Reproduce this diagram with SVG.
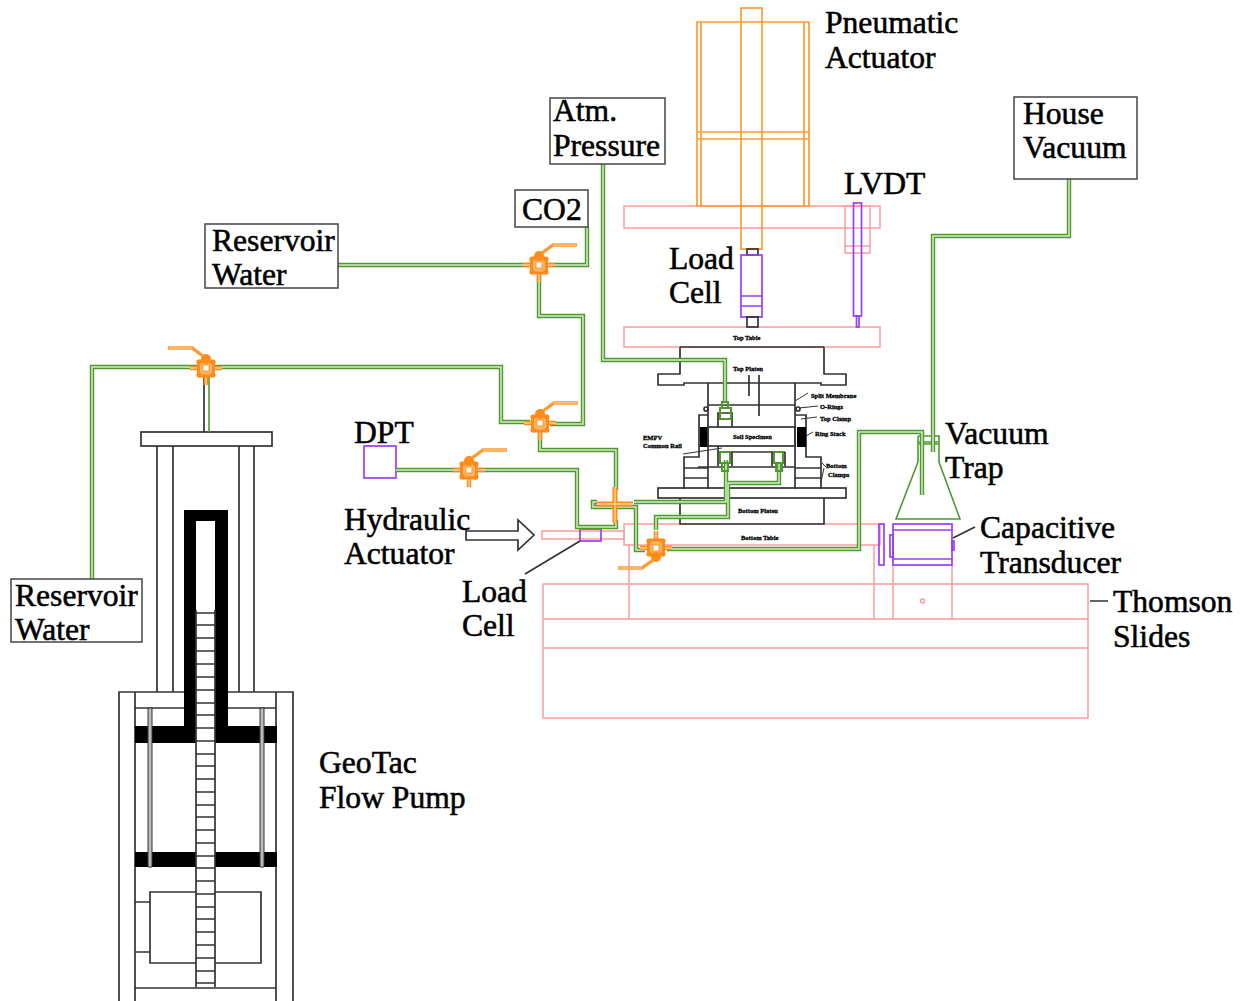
<svg xmlns="http://www.w3.org/2000/svg" xmlns:xlink="http://www.w3.org/1999/xlink" width="1243" height="1001" viewBox="0 0 1243 1001">
<style>
text{font-family:"Liberation Serif","Times New Roman",serif;fill:#000}
.l{font-size:31.6px;stroke:#000;stroke-width:.55px}
.t{font-size:6.5px;font-weight:bold;stroke:#000;stroke-width:.3px}
.k{fill:none;stroke:#333;stroke-width:1.7}
.kb{fill:#fff;stroke:#333;stroke-width:1.7}
.s{fill:#000;stroke:none}
.o{fill:none;stroke:#ff9a33;stroke-width:1.7}
.p{fill:none;stroke:#ff9c9c;stroke-width:1.5}
.v{fill:none;stroke:#9a3cff;stroke-width:1.7}
.g{fill:none;stroke:#4f9a2e;stroke-width:1.6}
.po{fill:none;stroke:#4f9a2e;stroke-width:4.4;stroke-linejoin:miter}
.pi{fill:none;stroke:#d4ecc8;stroke-width:1.5;stroke-linejoin:miter}
.vo{fill:none;stroke:#ff8c1a;stroke-width:4.5;stroke-linecap:butt}
.vi{fill:none;stroke:#ffd09a;stroke-width:1.4}
.box{fill:#fff;stroke:#444;stroke-width:1.5}
</style>
<defs>
<g id="valve">
<path class="vo" d="M-16,1H16M0,-6V18"/>
<path class="vi" d="M-16,1H16M0,6V18"/>
<rect x="-7.500" y="-6" width="15" height="15" rx="2" fill="#ffb366" stroke="#ff8c1a" stroke-width="3"/>
<circle cx="-7" cy="-5" r="2.600" fill="#ff8c1a"/><circle cx="7" cy="-5" r="2.600" fill="#ff8c1a"/>
<circle cx="-7" cy="8" r="2.600" fill="#ff8c1a"/><circle cx="7" cy="8" r="2.600" fill="#ff8c1a"/>
<circle cx="0" cy="-8" r="5" fill="#ff8c1a"/>
<path d="M3,-11L14,-19H38" fill="none" stroke="#ff9a33" stroke-width="3.400"/>
<path d="M14,-19H37" fill="none" stroke="#ffd09a" stroke-width="1.100"/>
<rect x="-3" y="-2" width="6" height="6" fill="#fff" stroke="#ff9a33" stroke-width="1"/>
</g>
</defs>

<g id="thomson-slides">
<rect class="p" x="543" y="584" width="545" height="134"/>
<path class="p" d="M543,619H1088M543,648H1088M629,545V619M874,545V619M893,565V619M952,565V619"/>
<circle class="p" cx="922.500" cy="601" r="2"/>
</g>
<g id="tables">
<rect class="p" x="624" y="206" width="256" height="22"/>
<rect class="p" x="624" y="327" width="256" height="20"/>
<rect class="p" x="624" y="524" width="256" height="21"/>
<rect class="p" x="542" y="531" width="82" height="8"/>
<rect class="p" x="845" y="206" width="25" height="47"/>
<path class="p" d="M845,246H870"/>
</g>
<g id="pneumatic-actuator">
<path class="o" d="M697,206V22H809V206M701,206V22M804,206V22M697,132H809M697,139H809M697,206H809"/>
<rect class="o" x="741" y="8" width="21" height="241"/>
</g>
<g id="load-cell-top">
<rect class="k" x="747" y="249" width="11" height="6"/>
<rect class="v" x="741" y="255" width="21" height="62"/>
<path class="v" d="M741,296H762M741,306H762"/>
<rect class="k" x="747" y="317" width="11" height="10"/>
</g>
<g id="lvdt">
<rect class="v" x="853.500" y="203" width="8" height="113"/>
<rect class="v" x="856.500" y="316" width="2.500" height="11"/>
</g>
<g id="triaxial-cell">
<path class="k" d="M680,347H824M680,347V374H658V385H684V383H821V385H846V374H824V347"/>
<path class="k" d="M708,383V489M795,383V489M708,405H795M749,375V396M759,375V416"/>
<rect class="k" x="708" y="427" width="87" height="19"/>
<path class="k" d="M718,427V413H732V427M718,446V466M732,452V466M772,452V466M785,452V466M718,452H785M698,467H795"/>
<path class="k" d="M708,415H699V457H684V489M795,415H806V457H821V489M684,468H708M684,478H708M795,468H821M795,478H821"/>
<rect class="s" x="700" y="427" width="7" height="20"/>
<rect class="s" x="797" y="427" width="9" height="20"/>
<rect class="k" x="658" y="488" width="188" height="10"/>
<path class="k" d="M680,498V524H824V498"/>
<circle class="k" cx="706" cy="409" r="2"/>
<circle class="k" cx="798" cy="409" r="2"/>
<path class="k" style="stroke-width:1" d="M795,401L808,393M799,408L818,406M801,419L817,417M806,436L813,432M821,462L826,467M821,482L824,468M683,454L722,448"/>
<text class="t" x="733" y="340">Top Table</text>
<text class="t" x="733" y="371">Top Platen</text>
<text class="t" x="811" y="398">Split Membrane</text>
<text class="t" x="820" y="409">O-Rings</text>
<text class="t" x="820" y="421">Top Clamp</text>
<text class="t" x="815" y="436">Ring Stack</text>
<text class="t" x="643" y="440">EMFV</text>
<text class="t" x="643" y="448">Common Rail</text>
<text class="t" x="733" y="439">Soil Specimen</text>
<text class="t" x="826" y="468">Bottom</text>
<text class="t" x="828" y="477">Clamps</text>
<text class="t" x="738" y="513">Bottom Platen</text>
<text class="t" x="741" y="540">Bottom Table</text>
</g>
<g id="flask">
<path class="g" d="M918,436H940M918,462L896,519H960L939,462V436M919,444H938M919,442H938M918,436V462"/>
</g>
<g id="capacitive-transducer">
<rect class="v" x="893" y="524" width="59" height="41"/>
<path class="v" d="M893,530H952M893,559H952"/>
<rect class="v" x="890" y="535" width="3" height="22"/>
<rect class="v" x="952" y="541" width="2" height="9"/>
<rect class="v" x="879" y="524" width="5" height="41"/>
</g>
<g id="load-cell-bottom"><rect class="v" x="580" y="529" width="21" height="12"/></g>
<g id="flow-pump">
<rect class="kb" x="141" y="432" width="131" height="14"/>
<path class="k" d="M157,446V692M173,446V692M239,446V692M254,446V692"/>
<path class="k" d="M119,1001V692H184M228,692H293V1001M135,1001V692M276,1001V692M135,708H184M228,708H276M135,988H276"/>
<path class="s" d="M184,510H228V726H277V743H215V521H196V743H135V726H184Z"/>
<rect class="s" x="135" y="852" width="61" height="15"/>
<rect class="s" x="215" y="852" width="62" height="15"/>
<path fill="#bbb" stroke="#333" d="M148,708h4V867h-4ZM260,708h4V867h-4Z"/>
<path class="k" d="M196,610V987M215,610V987"/>
<path class="k" d="M196,613H215M196,625H215M196,638H215M196,651H215M196,664H215M196,677H215M196,690H215M196,703H215M196,715H215M196,728H215M196,741H215M196,754H215M196,766H215M196,779H215M196,792H215M196,805H215M196,817H215M196,830H215M196,843H215M196,856H215M196,868H215M196,881H215M196,894H215M196,907H215M196,919H215M196,932H215M196,945H215M196,958H215M196,971H215M196,983H215"/>
<path class="k" d="M196,892H150V963H196M215,892H261V963H215M135,902H150M135,952H150"/>
</g>
<g id="dpt"><rect class="v" x="364" y="446" width="32" height="32"/></g>
<g id="connectors">
<path class="k" d="M204,374V432"/>
<path class="g" d="M209,374V432"/>
<g class="po">
<path d="M338,265H587V227"/>
<path d="M539,275V316H583V424H550"/>
<path d="M530,422H501V367H214"/>
<path d="M197,367H92V579"/>
<path d="M540,432V450H616V490"/>
<path d="M396,470H577V527H616V520"/>
<path d="M603,164V360H725V403"/>
<path d="M1069,179V236H933V452"/>
<path d="M634,502H726V460"/>
<path d="M597,502H593V507H636V550H645"/>
<path d="M779,462V483H728V517H656V530"/>
<path d="M667,549H859V432H922V495"/>
</g>
<g class="pi">
<path d="M338,265H587V227"/>
<path d="M539,275V316H583V424H550"/>
<path d="M530,422H501V367H214"/>
<path d="M197,367H92V579"/>
<path d="M540,432V450H616V490"/>
<path d="M396,470H577V527H616V520"/>
<path d="M603,164V360H725V403"/>
<path d="M1069,179V236H933V452"/>
<path d="M634,502H726V460"/>
<path d="M597,502H593V507H636V550H645"/>
<path d="M779,462V483H728V517H656V530"/>
<path d="M667,549H859V432H922V495"/>
</g>
<path d="M597,504H633M615,487V523" fill="none" stroke="#ff8c1a" stroke-width="5"/>
<path d="M597,504H633M615,487V523" fill="none" stroke="#ffd09a" stroke-width="1.400"/>
<path class="g" style="stroke-width:2" d="M722,402h6v6h-6ZM720,408h11v11h-11ZM720,452h10v11h-10ZM722,463h6v8h-6ZM774,452h9v11h-9ZM776,463h6v8h-6Z"/>
<path class="k" d="M525,574L580,541M953,538L975,527M1090,601H1108"/>
<path class="k" d="M466,531H518V520L534,535L518,550V540H466Z"/>
</g>
<g id="valves">
<use xlink:href="#valve" href="#valve" transform="translate(539,264)"/>
<use xlink:href="#valve" href="#valve" transform="translate(540,422)"/>
<use xlink:href="#valve" href="#valve" transform="translate(206,367) scale(-1,1)"/>
<use xlink:href="#valve" href="#valve" transform="translate(469,469)"/>
<use xlink:href="#valve" href="#valve" transform="translate(656,549) scale(-1,-1)"/>
</g>
<g id="atm-pressure">
<rect class="box" x="550" y="98" width="115" height="66"/>
<text class="l" x="553" y="121">Atm.</text><text class="l" x="553" y="156">Pressure</text>
</g>
<g id="house-vacuum">
<rect class="box" x="1014" y="97" width="123" height="82"/>
<text class="l" x="1023" y="124">House</text><text class="l" x="1023" y="158">Vacuum</text>
</g>
<g id="co2">
<rect class="box" x="515" y="190" width="73" height="37"/>
<text class="l" x="522" y="220">CO2</text>
</g>
<g id="reservoir-1">
<rect class="box" x="205" y="224" width="133" height="64"/>
<text class="l" x="212" y="251">Reservoir</text><text class="l" x="212" y="285">Water</text>
</g>
<g id="reservoir-2">
<rect class="box" x="11" y="579" width="131" height="63"/>
<text class="l" x="15" y="606">Reservoir</text><text class="l" x="15" y="640">Water</text>
</g>
<g id="labels">
<text class="l" x="825" y="33">Pneumatic</text><text class="l" x="825" y="68">Actuator</text>
<text class="l" x="844" y="194">LVDT</text>
<text class="l" x="669" y="269">Load</text><text class="l" x="669" y="303">Cell</text>
<text class="l" x="354" y="443">DPT</text>
<text class="l" x="945" y="444">Vacuum</text><text class="l" x="945" y="478">Trap</text>
<text class="l" x="344" y="530">Hydraulic</text><text class="l" x="344" y="564">Actuator</text>
<text class="l" x="462" y="602">Load</text><text class="l" x="462" y="636">Cell</text>
<text class="l" x="980" y="538">Capacitive</text><text class="l" x="980" y="573">Transducer</text>
<text class="l" x="1113" y="612">Thomson</text><text class="l" x="1113" y="647">Slides</text>
<text class="l" x="319" y="773">GeoTac</text><text class="l" x="319" y="808">Flow Pump</text>
</g>
</svg>
